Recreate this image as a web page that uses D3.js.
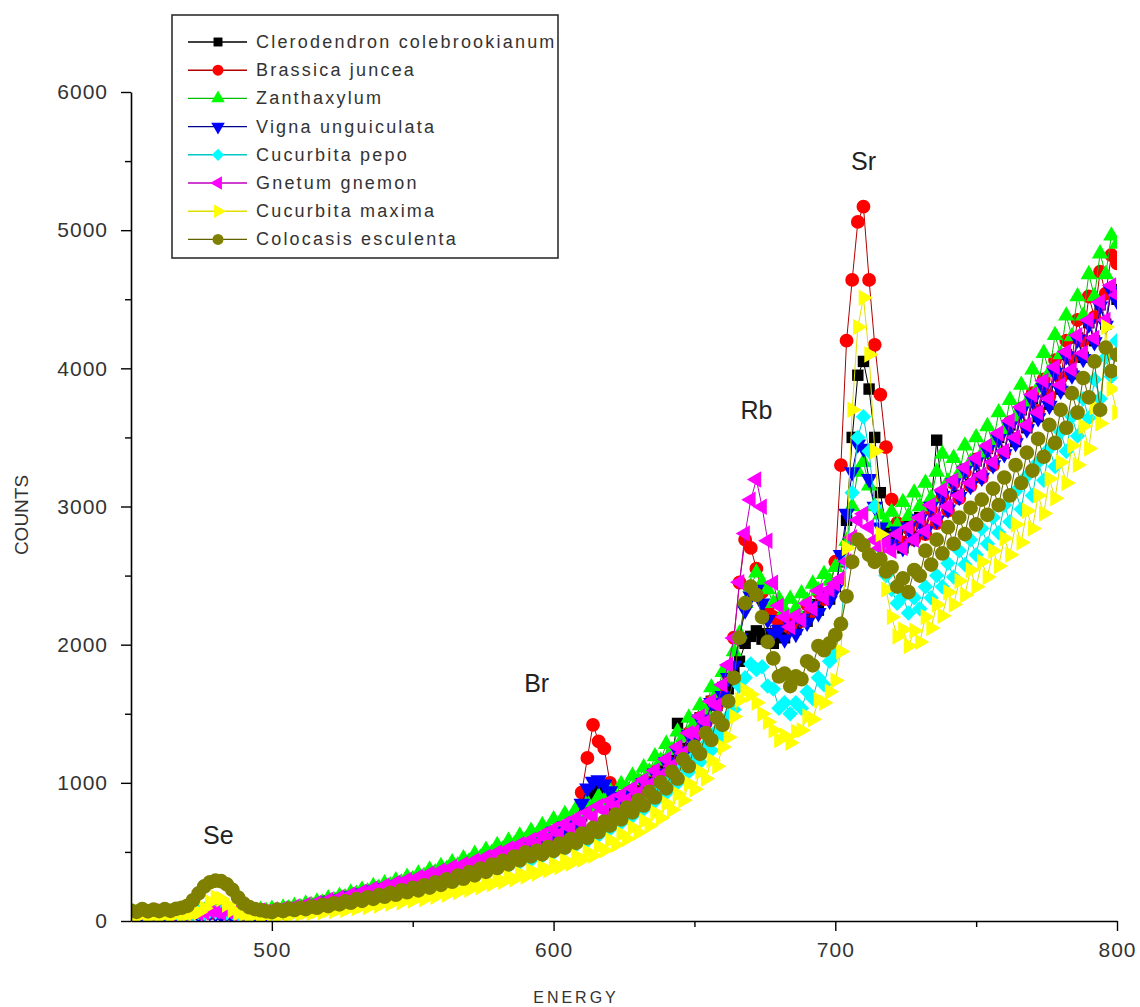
<!DOCTYPE html>
<html>
<head>
<meta charset="utf-8">
<script src="https://cdn.jsdelivr.net/npm/d3@7"></script>
<style>
  body { margin: 0; background: #fff; }
  svg { display: block; }
  text { font-family: "Liberation Sans", Arial, sans-serif; }
</style>
</head>
<body>
<svg id="chart" width="1140" height="1007"></svg>
<script>
// XRF spectra of eight plant samples, counts per energy channel (every 2nd channel)
const energies = d3.range(450, 801, 2);

const seriesNames = [
  "Clerodendron colebrookianum", "Brassica juncea", "Zanthaxylum", "Vigna unguiculata",
  "Cucurbita pepo", "Gnetum gnemon", "Cucurbita maxima", "Colocasis esculenta"
];

const clerodendronCounts = [
  50, 62, 44, 58, 66,   48, 60, 52, 64, 50,   58, 66, 50, 62, 70,   62, 52, 58, 46, 56,
  48, 62, 58, 72, 60,   74, 66, 84, 80, 98,   92, 112, 104, 126, 118,   146, 134, 162, 154, 184,
  176, 204, 192, 226, 212,   244, 228, 262, 250, 284,   266, 302, 284, 326, 308,   348, 324, 372, 354, 396,
  374, 418, 398, 446, 424,   478, 450, 506, 480, 538,   510, 566, 540, 604, 578,   652, 620, 690, 664, 724,
  760, 850, 930, 950, 900,   830, 880, 840, 912, 884,   970, 940, 1040, 1010, 1120,   1090, 1200, 1430, 1250, 1350,
  1360, 1470, 1450, 1590, 1560,   1690, 1680, 1830, 1880, 2010,   2060, 2100, 2040, 2080, 2010,   2090, 2050, 2150, 2110, 2200,
  2170, 2290, 2250, 2370, 2330,   2420, 2600, 2900, 3500, 3950,   4050, 3850, 3500, 3100, 2850,   2740, 2830, 2700, 2860, 2780,
  2920, 2830, 3010, 3480, 3090,   2990, 3180, 3080, 3270, 3160,   3330, 3220, 3420, 3310, 3500,   3390, 3590, 3470, 3700, 3570,
  3780, 3650, 3870, 3740, 3980,   3850, 4100, 3960, 4220, 4080,   4330, 4200, 4460, 4320, 4570,   4500
];

const brassicaCounts = [
  54, 46, 64, 50, 60,   58, 48, 62, 54, 66,   52, 64, 58, 68, 56,   70, 58, 62, 50, 60,
  56, 64, 58, 72, 66,   64, 80, 76, 92, 86,   106, 96, 120, 112, 134,   130, 156, 146, 176, 164,
  196, 184, 216, 204, 236,   222, 256, 240, 276, 258,   294, 274, 314, 296, 338,   320, 362, 340, 386, 364,
  410, 386, 436, 414, 464,   440, 494, 468, 526, 498,   556, 526, 590, 562, 628,   608, 676, 648, 718, 690,
  930, 1180, 1420, 1300, 1250,   1000, 850, 900, 860, 940,   920, 1010, 980, 1080, 1050,   1160, 1110, 1240, 1200, 1360,
  1330, 1470, 1430, 1590, 1560,   1640, 1780, 2050, 2450, 2760,   2700, 2550, 2380, 2250, 2200,   2130, 2190, 2120, 2210, 2170,
  2290, 2240, 2380, 2330, 2380,   2600, 3300, 4200, 4640, 5060,   5170, 4640, 4170, 3810, 3430,   3050, 2880, 2740, 2840, 2760,
  2890, 2800, 2980, 2880, 3070,   2970, 3170, 3060, 3250, 3150,   3340, 3210, 3420, 3300, 3510,   3390, 3610, 3490, 3710, 3580,
  3820, 3690, 3920, 3800, 4060,   3930, 4200, 4070, 4350, 4200,   4520, 4370, 4700, 4540, 4820,   4760
];

const zanthaxylumCounts = [
  62, 54, 70, 58, 66,   56, 68, 60, 72, 58,   66, 74, 60, 72, 80,   72, 64, 76, 60, 68,
  58, 72, 66, 80, 70,   86, 76, 96, 90, 108,   100, 124, 114, 140, 130,   162, 150, 180, 170, 204,
  196, 226, 214, 252, 238,   272, 256, 292, 278, 318,   300, 342, 326, 370, 350,   396, 374, 424, 402, 452,
  430, 484, 458, 514, 490,   548, 518, 580, 552, 616,   586, 652, 622, 692, 662,   734, 700, 772, 740, 812,
  776, 856, 822, 900, 866,   944, 906, 990, 960, 1050,   1018, 1110, 1080, 1190, 1160,   1280, 1236, 1370, 1330, 1470,
  1430, 1560, 1520, 1690, 1650,   1800, 1760, 1950, 2080, 2300,   2420, 2520, 2450, 2400, 2300,   2330, 2250, 2330, 2260, 2370,
  2320, 2440, 2390, 2510, 2460,   2560, 2600, 2750, 3000, 3250,   3320, 3150, 3000, 2940, 2880,   2960, 2860, 3030, 2930, 3100,
  3000, 3170, 3060, 3250, 3380,   3180, 3350, 3240, 3440, 3320,   3500, 3380, 3580, 3460, 3680,   3550, 3770, 3640, 3880, 3750,
  3990, 3860, 4110, 3970, 4240,   4100, 4380, 4230, 4520, 4380,   4680, 4520, 4830, 4680, 4960,   4900
];

const vignaCounts = [
  46, 56, 42, 54, 60,   46, 56, 48, 60, 46,   54, 60, 46, 58, 64,   52, 44, 56, 40, 52,
  46, 58, 54, 68, 58,   70, 62, 80, 76, 94,   88, 108, 100, 122, 114,   142, 130, 158, 150, 180,
  172, 200, 188, 222, 208,   240, 224, 258, 246, 280,   262, 298, 280, 322, 304,   344, 320, 368, 350, 392,
  370, 414, 394, 442, 420,   474, 446, 502, 476, 534,   506, 562, 536, 600, 574,   648, 616, 686, 660, 720,
  850, 960, 1010, 1020, 990,   940, 880, 900, 870, 930,   912, 1000, 970, 1070, 1040,   1150, 1100, 1230, 1190, 1350,
  1320, 1460, 1420, 1580, 1550,   1630, 1760, 1850, 2050, 2250,   2350, 2400, 2300, 2180, 2080,   2110, 2040, 2140, 2080, 2190,
  2160, 2280, 2230, 2360, 2320,   2400, 2650, 2950, 3250, 3450,   3420, 3200, 3000, 2850, 2780,   2730, 2820, 2700, 2850, 2770,
  2910, 2820, 3000, 2900, 3080,   2980, 3170, 3070, 3260, 3150,   3320, 3210, 3410, 3300, 3490,   3380, 3580, 3460, 3690, 3560,
  3770, 3640, 3860, 3730, 3970,   3840, 4090, 3950, 4210, 4070,   4320, 4190, 4450, 4310, 4560,   4490
];

const pepoCounts = [
  52, 44, 60, 48, 56,   50, 58, 46, 60, 50,   56, 50, 62, 56, 70,   64, 72, 58, 62, 48,
  56, 46, 60, 52, 64,   56, 68, 62, 78, 72,   86, 78, 96, 90, 106,   100, 118, 110, 132, 124,
  148, 138, 162, 152, 176,   168, 192, 182, 208, 198,   226, 212, 244, 230, 264,   250, 286, 270, 310, 294,
  336, 316, 362, 342, 390,   370, 416, 396, 444, 424,   466, 440, 492, 470, 518,   494, 544, 520, 574, 550,
  606, 580, 648, 620, 694,   664, 740, 712, 790, 760,   846, 808, 900, 866, 966,   926, 1040, 1000, 1120, 1080,
  1196, 1150, 1280, 1236, 1380,   1340, 1480, 1530, 1700, 1760,   1860, 1820, 1840, 1700, 1680,   1540, 1580, 1500, 1580, 1540,
  1660, 1610, 1760, 1710, 1880,   1930, 2150, 2600, 3100, 3500,   3650, 3400, 3000, 2700, 2500,   2400, 2300, 2350, 2230, 2340,
  2260, 2420, 2340, 2500, 2420,   2590, 2490, 2680, 2580, 2760,   2650, 2840, 2730, 2920, 2810,   3010, 2890, 3110, 2980, 3220,
  3080, 3320, 3190, 3420, 3290,   3540, 3400, 3650, 3510, 3780,   3640, 3920, 3780, 4080, 3940,   4200
];

const gnetumCounts = [
  56, 66, 50, 62, 70,   52, 64, 56, 68, 54,   64, 70, 56, 66, 74,   68, 58, 72, 56, 64,
  54, 68, 62, 76, 64,   80, 70, 90, 84, 102,   96, 118, 108, 132, 122,   152, 138, 170, 158, 192,
  182, 212, 200, 236, 222,   256, 238, 276, 258, 298,   278, 318, 298, 344, 322,   366, 340, 390, 368, 412,
  392, 438, 414, 464, 440,   496, 468, 524, 496, 556,   528, 586, 558, 622, 594,   664, 630, 702, 672, 744,
  712, 786, 754, 832, 798,   870, 830, 910, 876, 960,   924, 1020, 984, 1090, 1050,   1170, 1120, 1260, 1214, 1360,
  1366, 1480, 1440, 1590, 1560,   1710, 1852, 2048, 2452, 2805,   3048, 3195, 2998, 2752, 2448,   2282, 2200, 2130, 2210, 2180,
  2300, 2260, 2390, 2340, 2400,   2440, 2478, 2602, 2776, 2902,   2948, 2852, 2758, 2700, 2740,   2680, 2800, 2700, 2850, 2760,
  2920, 2820, 3010, 2910, 3120,   3000, 3190, 3080, 3280, 3170,   3350, 3230, 3440, 3320, 3530,   3400, 3620, 3500, 3720, 3590,
  3810, 3680, 3910, 3780, 4010,   3880, 4120, 3990, 4240, 4110,   4350, 4220, 4480, 4350, 4600,   4530
];

const maximaCounts = [
  42, 34, 50, 38, 46,   40, 50, 36, 52, 42,   50, 56, 64, 92, 135,   170, 160, 120, 80, 56,
  48, 42, 50, 38, 46,   46, 38, 52, 44, 58,   50, 64, 56, 72, 64,   80, 70, 88, 80, 100,
  92, 110, 100, 122, 112,   136, 124, 146, 134, 160,   148, 172, 158, 188, 176,   206, 190, 222, 208, 244,
  226, 260, 244, 282, 266,   304, 284, 322, 302, 342,   322, 364, 344, 388, 368,   414, 390, 440, 416, 470,
  444, 500, 474, 540, 512,   586, 552, 630, 596, 676,   640, 726, 690, 784, 746,   850, 806, 920, 874, 996,
  954, 1080, 1030, 1164, 1120,   1260, 1330, 1480, 1600, 1670,   1640, 1580, 1500, 1440, 1380,   1310, 1340, 1290, 1370, 1380,
  1480, 1460, 1600, 1580, 1660,   1740, 1950, 2700, 3700, 4300,   4510, 4100, 3400, 2800, 2400,   2200, 2060, 2110, 1990, 2100,
  2020, 2200, 2120, 2290, 2210,   2380, 2290, 2460, 2360, 2540,   2420, 2600, 2490, 2680, 2570,   2770, 2650, 2870, 2740, 2970,
  2840, 3080, 2950, 3200, 3060,   3320, 3170, 3440, 3300, 3580,   3420, 3720, 3600, 4300, 3850,   3680
];

const colocasisCounts = [
  76, 66, 86, 70, 82,   72, 86, 74, 88, 96,   110, 150, 200, 250, 280,   292, 288, 265, 225, 170,
  125, 100, 86, 78, 70,   64, 82, 72, 88, 80,   96, 86, 104, 96, 116,   108, 128, 120, 142, 132,
  158, 146, 172, 160, 188,   176, 204, 190, 222, 208,   240, 222, 258, 242, 280,   262, 302, 284, 328, 306,
  354, 330, 380, 356, 408,   384, 436, 410, 466, 440,   496, 468, 508, 482, 534,   508, 560, 532, 592, 566,
  632, 602, 674, 644, 720,   690, 770, 736, 820, 786,   874, 836, 934, 894, 1004,   960, 1080, 1030, 1170, 1120,
  1262, 1210, 1360, 1310, 1470,   1420, 1590, 1760, 2050, 2300,   2420, 2360, 2200, 2020, 1900,   1770, 1790, 1700, 1770, 1750,
  1880, 1850, 1990, 1960, 2010,   2070, 2150, 2350, 2600, 2760,   2720, 2650, 2600, 2620, 2530,   2560, 2420, 2480, 2380, 2540,
  2500, 2680, 2580, 2760, 2660,   2850, 2730, 2920, 2800, 2990,   2870, 3050, 2940, 3130, 3010,   3210, 3080, 3300, 3170, 3390,
  3260, 3490, 3360, 3590, 3460,   3700, 3570, 3820, 3680, 3930,   3790, 4050, 3700, 4150, 3980,   4100
];

const seriesCounts = [
  clerodendronCounts, brassicaCounts, zanthaxylumCounts, vignaCounts,
  pepoCounts, gnetumCounts, maximaCounts, colocasisCounts
];

const xTickValues = [500, 600, 700, 800];
const xMinorTicks = [550, 650, 750];
const yTickValues = [0, 1000, 2000, 3000, 4000, 5000, 6000];
const yMinorTicks = [500, 1500, 2500, 3500, 4500, 5500];

const peakNames = ["Se", "Br", "Rb", "Sr"];
const peakEnergy = [481, 594, 672, 710];
const peakCounts = [620, 1720, 3700, 5500];

// ---- styles ----
const colors = ["#000000", "#ff0000", "#00ff00", "#0000ff", "#00ffff", "#ff00ff", "#ffff00", "#808000"];
const lineColors = ["#000000", "#b00000", "#00c000", "#000090", "#00c8c8", "#c000c0", "#e0e000", "#606000"];
const symbolTypes = [d3.symbolSquare, d3.symbolCircle, d3.symbolTriangle, d3.symbolTriangle,
                     d3.symbolSquare, d3.symbolTriangle, d3.symbolTriangle, d3.symbolCircle];
const symbolRotate = [0, 0, 0, 180, 45, -90, 90, 0];
const symbolSize = [130, 150, 118, 118, 120, 118, 118, 170];
const legendSymbolSize = [80, 95, 80, 80, 75, 80, 80, 95];

const svg = d3.select("#chart");
const plotLeft = 131, plotRight = 1117, plotTop = 92, plotBottom = 921;

const x = d3.scaleLinear().domain([450, 800]).range([plotLeft, plotRight]);
const y = d3.scaleLinear().domain([0, 6000]).range([plotBottom, plotTop]);

svg.append("defs").append("clipPath").attr("id", "plotClip")
  .append("rect").attr("x", plotLeft).attr("y", plotTop - 20)
  .attr("width", plotRight - plotLeft).attr("height", plotBottom - plotTop + 20);

const plot = svg.append("g").attr("clip-path", "url(#plotClip)");

const line = d3.line().x((d, i) => x(energies[i])).y(d => y(d));

seriesCounts.forEach((counts, s) => {
  const g = plot.append("g");
  g.append("path").datum(counts)
    .attr("d", line).attr("fill", "none")
    .attr("stroke", lineColors[s]).attr("stroke-width", 1);
  const sym = d3.symbol().type(symbolTypes[s]).size(symbolSize[s]);
  g.selectAll("path.pt").data(counts).join("path").attr("class", "pt")
    .attr("d", sym)
    .attr("transform", (d, i) => `translate(${x(energies[i])},${y(d)}) rotate(${symbolRotate[s]})`)
    .attr("fill", colors[s]);
});

// ---- axes ----
const axisColor = "#000";
const labelColor = "#333";

svg.append("g").attr("transform", `translate(${plotLeft},0)`)
  .call(d3.axisLeft(y).tickValues(yTickValues).tickSize(10).tickSizeOuter(0).tickPadding(13).tickFormat(d3.format("d")));
const yMinor = svg.append("g").attr("transform", `translate(${plotLeft},0)`)
  .call(d3.axisLeft(y).tickValues(yMinorTicks).tickSize(6).tickSizeOuter(0).tickFormat(""));
yMinor.select(".domain").remove();

svg.append("g").attr("transform", `translate(0,${plotBottom})`)
  .call(d3.axisBottom(x).tickValues(xTickValues).tickSize(10).tickSizeOuter(0).tickPadding(11).tickFormat(d3.format("d")));
const xMinor = svg.append("g").attr("transform", `translate(0,${plotBottom})`)
  .call(d3.axisBottom(x).tickValues(xMinorTicks).tickSize(6).tickSizeOuter(0).tickFormat(""));
xMinor.select(".domain").remove();

svg.selectAll(".domain").attr("stroke", axisColor).attr("stroke-width", 1.6);
svg.selectAll(".tick line").attr("stroke", axisColor).attr("stroke-width", 1.4);
svg.selectAll(".tick text")
  .attr("fill", labelColor)
  .style("font-family", "'Liberation Sans', Arial, sans-serif")
  .style("font-size", "21px")
  .style("letter-spacing", "1px");

// axis titles
svg.append("text")
  .attr("transform", "translate(28,515) rotate(-90)")
  .attr("text-anchor", "middle")
  .attr("fill", labelColor)
  .style("font-size", "19px")
  .text("COUNTS");

svg.append("text")
  .attr("x", 576).attr("y", 1003)
  .attr("text-anchor", "middle")
  .attr("fill", labelColor)
  .style("font-size", "16px")
  .style("letter-spacing", "3px")
  .text("ENERGY");

// peak labels
peakNames.forEach((name, i) => {
  svg.append("text")
    .attr("x", x(peakEnergy[i])).attr("y", y(peakCounts[i]))
    .attr("text-anchor", "middle").attr("dominant-baseline", "central")
    .attr("fill", "#222")
    .style("font-size", "25px")
    .text(name);
});

// ---- legend ----
const legend = svg.append("g");
legend.append("rect")
  .attr("x", 172).attr("y", 15).attr("width", 386).attr("height", 243)
  .attr("fill", "#fff").attr("stroke", "#222").attr("stroke-width", 1.5);

seriesNames.forEach((name, s) => {
  const ly = 42 + s * 28.2;
  legend.append("line")
    .attr("x1", 188).attr("x2", 247).attr("y1", ly).attr("y2", ly)
    .attr("stroke", lineColors[s]).attr("stroke-width", 1.4);
  legend.append("path")
    .attr("d", d3.symbol().type(symbolTypes[s]).size(legendSymbolSize[s])())
    .attr("transform", `translate(218,${ly}) rotate(${symbolRotate[s]})`)
    .attr("fill", colors[s]);
  legend.append("text")
    .attr("x", 256).attr("y", ly).attr("dominant-baseline", "central")
    .attr("fill", "#333")
    .style("font-size", "18px")
    .style("letter-spacing", "2.2px")
    .text(name);
});
</script>
</body>
</html>
